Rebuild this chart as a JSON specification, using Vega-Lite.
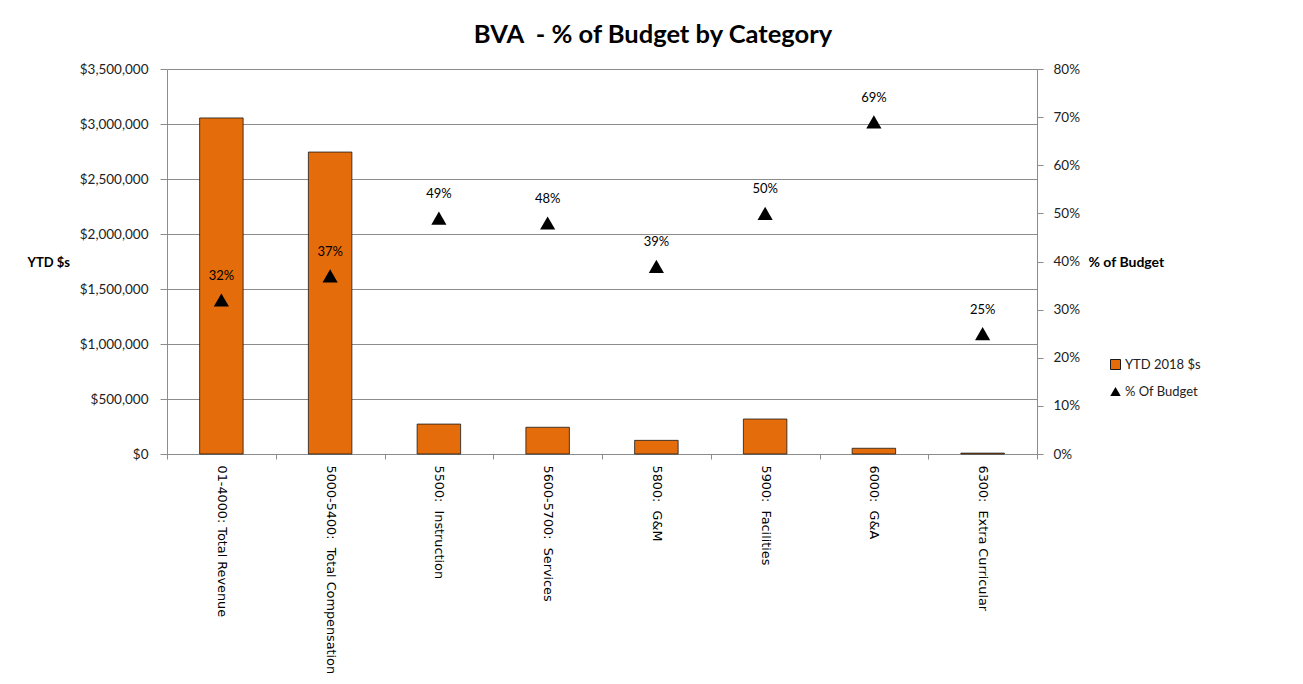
{
  "$schema": "https://vega.github.io/schema/vega-lite/v6.json",
  "autosize": {"type": "none"},
  "width": 870,
  "height": 385,
  "padding": {"left": 167, "top": 69, "right": 266, "bottom": 230},
  "background": "white",
  "title": {
    "text": "BVA \u00a0- % of Budget by Category",
    "font": "Lato",
    "fontSize": 25.5,
    "fontWeight": "bold",
    "color": "black",
    "anchor": "middle",
    "dx": 51,
    "offset": 14
  },
  "data": {
    "values": [
      {"category": "01-4000: Total Revenue", "ytd": 3055000, "pct": 0.32},
      {"category": "5000-5400: \u00a0Total Compensation", "ytd": 2745000, "pct": 0.37},
      {"category": "5500: \u00a0Instruction", "ytd": 272000, "pct": 0.49},
      {"category": "5600-5700: \u00a0Services", "ytd": 243000, "pct": 0.48},
      {"category": "5800: \u00a0G&M", "ytd": 124000, "pct": 0.39},
      {"category": "5900: \u00a0Facilities", "ytd": 318000, "pct": 0.50},
      {"category": "6000: \u00a0G&A", "ytd": 52000, "pct": 0.69},
      {"category": "6300: \u00a0Extra Curricular", "ytd": 8000, "pct": 0.25}
    ]
  },
  "encoding": {
    "x": {
      "field": "category",
      "type": "nominal",
      "sort": null,
      "scale": {"paddingInner": 0, "paddingOuter": 0},
      "axis": {
        "title": null,
        "labelAngle": 90,
        "labelAlign": "left",
        "labelBaseline": "middle",
        "labelFont": "DejaVu Sans",
        "labelFontSize": 12.8,
        "labelColor": "black",
        "labelPadding": 6,
        "tickBand": "extent",
        "tickSize": 5,
        "tickColor": "#8c8c8c",
        "domainColor": "#8c8c8c",
        "grid": false,
        "labelLimit": 300
      }
    }
  },
  "layer": [
    {
      "mark": {"type": "bar", "width": {"band": 0.4}, "stroke": "#1a1a1a", "strokeWidth": 0.8},
      "encoding": {
        "y": {
          "field": "ytd",
          "type": "quantitative",
          "scale": {"domain": [0, 3500000], "nice": false},
          "axis": {
            "title": "YTD $s",
            "titleAngle": 0,
            "titleAlign": "left",
            "titleBaseline": "middle",
            "titleX": -140,
            "titleY": 193,
            "titleFont": "Lato",
            "titleFontSize": 13,
            "titleFontWeight": "bold",
            "titleColor": "black",
            "values": [0, 500000, 1000000, 1500000, 2000000, 2500000, 3000000, 3500000],
            "format": "$,.0f",
            "labelFont": "Lato",
            "labelFontSize": 13.5,
            "labelColor": "#222",
            "labelPadding": 12,
            "tickSize": 7,
            "tickColor": "#8c8c8c",
            "domainColor": "#8c8c8c",
            "grid": true,
            "gridColor": "#8c8c8c",
            "gridWidth": 1
          }
        },
        "color": {
          "datum": "YTD 2018 $s",
          "scale": {"range": ["#E46C0A"]},
          "legend": {
            "title": null,
            "orient": "none",
            "legendX": 942,
            "legendY": 289,
            "symbolType": "square",
            "symbolSize": 100,
            "symbolStrokeColor": "#1a1a1a",
            "symbolStrokeWidth": 1,
            "labelFont": "Lato",
            "labelFontSize": 13,
            "labelColor": "#222",
            "labelOffset": 3
          }
        }
      }
    },
    {
      "encoding": {
        "y": {
          "field": "pct",
          "type": "quantitative",
          "scale": {"domain": [0, 0.8], "nice": false},
          "axis": {
            "orient": "right",
            "title": "% of Budget",
            "titleAngle": 0,
            "titleAlign": "left",
            "titleBaseline": "middle",
            "titleX": 51,
            "titleY": 193,
            "titleFont": "Lato",
            "titleFontSize": 14,
            "titleFontWeight": "bold",
            "titleColor": "black",
            "values": [0, 0.1, 0.2, 0.3, 0.4, 0.5, 0.6, 0.7, 0.8],
            "format": ".0%",
            "labelFont": "Lato",
            "labelFontSize": 13.5,
            "labelColor": "#222",
            "labelPadding": 10,
            "tickSize": 6,
            "tickColor": "#8c8c8c",
            "domainColor": "#8c8c8c",
            "grid": false
          }
        }
      },
      "layer": [
        {
          "mark": {"type": "point", "filled": true, "color": "black", "opacity": 1, "size": 230},
          "encoding": {
            "shape": {
              "datum": "% Of Budget",
              "scale": {"range": ["triangle-up"]},
              "legend": {
                "title": null,
                "orient": "none",
                "legendX": 942,
                "legendY": 316,
                "symbolSize": 110,
                "symbolFillColor": "black",
                "symbolStrokeColor": "black",
                "labelFont": "Lato",
                "labelFontSize": 13,
                "labelColor": "#222",
                "labelOffset": 3
              }
            }
          }
        },
        {
          "mark": {"type": "text", "dy": -24, "font": "Lato", "fontSize": 13, "color": "black", "baseline": "middle"},
          "encoding": {
            "text": {"field": "pct", "type": "quantitative", "format": ".0%"}
          }
        }
      ]
    }
  ],
  "resolve": {"scale": {"y": "independent"}},
  "config": {
    "view": {"stroke": null},
    "axisX": {"labelFont": "DejaVu Sans", "labelFontSize": 12.8}
  }
}
